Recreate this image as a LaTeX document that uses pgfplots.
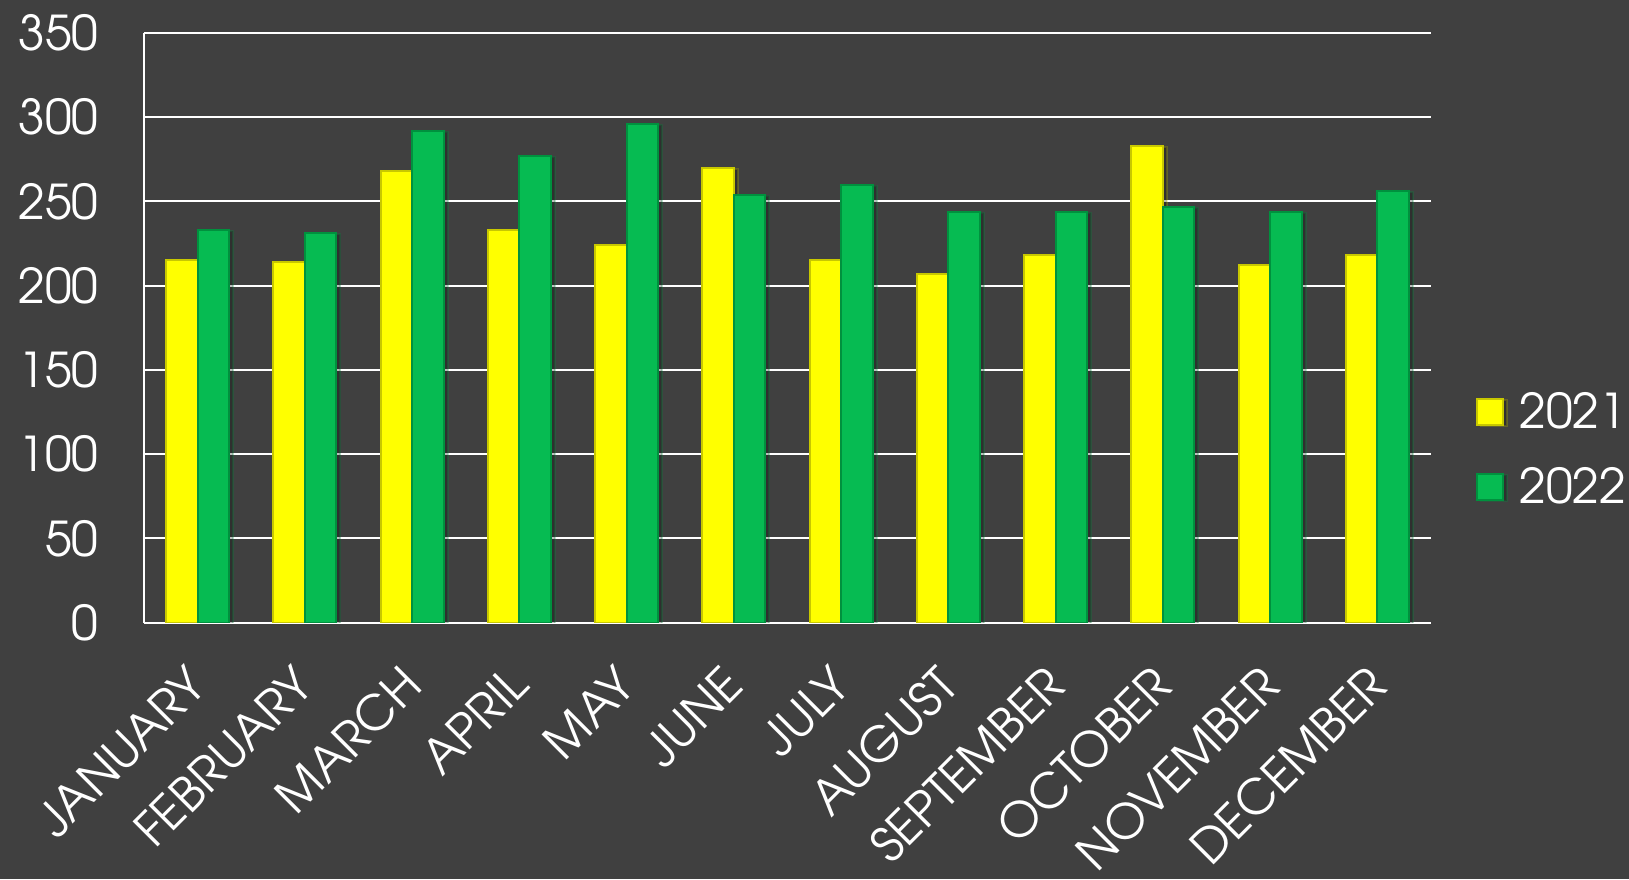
\documentclass[border=0pt]{standalone}
\usepackage{fontspec}
\setmainfont{TeX Gyre Adventor}
\usepackage{pgfplots}
\pgfplotsset{compat=1.18}
\usetikzlibrary{shadows}
\definecolor{bg}{RGB}{64,64,64}
\definecolor{yfill}{RGB}{255,255,0}
\definecolor{ydraw}{RGB}{200,200,0}
\definecolor{gfill}{RGB}{6,187,82}
\definecolor{gdraw}{RGB}{0,145,62}
\begin{document}
\begin{tikzpicture}
\fill[bg] (0,0) rectangle (815pt,440pt);
\begin{axis}[
  at={(72pt,128.5pt)}, anchor=south west,
  scale only axis, width=644pt, height=295pt,
  xmin=-0.5, xmax=11.5, ymin=0, ymax=350,
  ybar=0pt, bar width=15.75pt,
  axis x line*=bottom, axis y line*=left,
  axis line style={white, line width=1pt, -},
  ymajorgrids, grid style={white, line width=1pt},
  major tick length=0pt,
  ytick={0,50,...,350},
  xtick={0,...,11},
  xticklabels={JANUARY,FEBRUARY,MARCH,APRIL,MAY,JUNE,JULY,AUGUST,SEPTEMBER,OCTOBER,NOVEMBER,DECEMBER},
  /pgf/number format/assume math mode=true,
  tick label style={font=\fontsize{24}{28}\selectfont, text=white},
  yticklabel style={anchor=east, inner sep=0pt, xshift=-22.6pt},
  xticklabel style={xshift=-6.5pt, yshift=-20pt, rotate=45, anchor=north east, inner sep=0pt},
  legend style={at={(1.0342,0.2932)}, anchor=west, draw=none, fill=none,
    text=white, font=\fontsize{24}{28}\selectfont, inner sep=0pt,
    row sep=14pt, nodes={inner sep=2pt}},
  legend cell align=left,
  legend image code/.code={\draw[#1, line width=1pt] (0pt,-6.5pt) rectangle (13pt,6.5pt); \path (19pt,0pt);},
]
\addplot[fill=yfill, draw=ydraw, line width=1pt,
  drop shadow={shadow xshift=2pt, shadow yshift=-0.5pt, fill=black, opacity=0.25}] coordinates {
  (0,215) (1,214) (2,268) (3,233) (4,224) (5,270) (6,215) (7,207) (8,218) (9,283) (10,212) (11,218)};
\addplot[fill=gfill, draw=gdraw, line width=1pt,
  drop shadow={shadow xshift=2pt, shadow yshift=-0.5pt, fill=black, opacity=0.25}] coordinates {
  (0,233) (1,231) (2,292) (3,277) (4,296) (5,254) (6,260) (7,244) (8,244) (9,247) (10,244) (11,256)};
\legend{2021,2022}
\end{axis}
\pgfresetboundingbox
\path[use as bounding box] (0,0) rectangle (815pt,440pt);
\end{tikzpicture}
\end{document}
